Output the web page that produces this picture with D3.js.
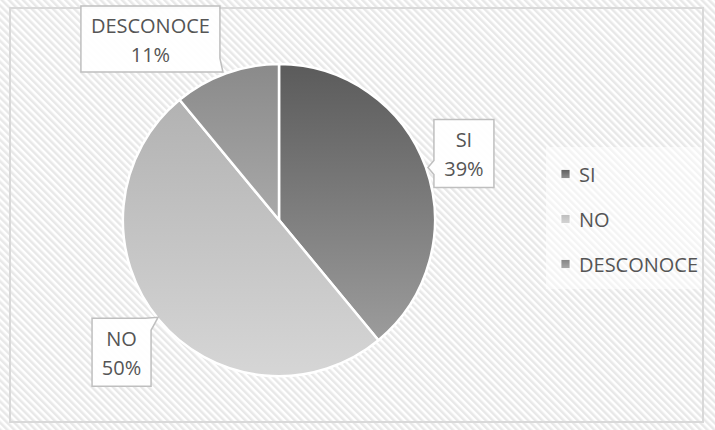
<!DOCTYPE html>
<html>
<head>
<meta charset="utf-8">
<script src="https://cdn.jsdelivr.net/npm/d3@7"></script>
<style>
  html, body { margin: 0; padding: 0; background: #fff; }
  svg { display: block; }
  text { font-family: "Open Sans", "Noto Sans", sans-serif; fill: #555555; }
</style>
</head>
<body>
<svg id="chart" width="715" height="430"></svg>
<script>
// Survey answers and their shares (percent)
const categories = ["SI", "NO", "DESCONOCE"];
const values = [39, 50, 11];
const labelText = ["39%", "50%", "11%"];

// Vertical gradient stops per slice (top, bottom)
const sliceGradients = [
  ["#5b5b5b", "#9c9c9c"],
  ["#b2b2b2", "#d6d6d6"],
  ["#8a8a8a", "#a9a9a9"]
];
const legendGradients = [
  ["#5e5e5e", "#8f8f8f"],
  ["#bdbdbd", "#d4d4d4"],
  ["#848484", "#a8a8a8"]
];

const W = 715, H = 430;
const cx = 279, cy = 220, R = 156;
const FS = 20;

const svg = d3.select("#chart");
const defs = svg.append("defs");

// Diagonal hatch background
const pat = defs.append("pattern")
  .attr("id", "hatch")
  .attr("patternUnits", "userSpaceOnUse")
  .attr("width", 5).attr("height", 5)
  .attr("patternTransform", "rotate(-45)");
pat.append("rect").attr("width", 5).attr("height", 5).attr("fill", "#ffffff");
pat.append("rect").attr("width", 2.5).attr("height", 5).attr("fill", "#e8e8e8");

svg.append("rect").attr("width", W).attr("height", H).attr("fill", "url(#hatch)");
svg.append("rect")
  .attr("x", 10).attr("y", 8).attr("width", 693).attr("height", 414)
  .attr("fill", "none").attr("stroke", "#d9d9d9").attr("stroke-width", 2);

sliceGradients.forEach((g, i) => {
  const lg = defs.append("linearGradient")
    .attr("id", "slice" + i).attr("x1", 0).attr("y1", 0).attr("x2", 0).attr("y2", 1);
  lg.append("stop").attr("offset", "0%").attr("stop-color", g[0]);
  lg.append("stop").attr("offset", "100%").attr("stop-color", g[1]);
});
legendGradients.forEach((g, i) => {
  const lg = defs.append("linearGradient")
    .attr("id", "leg" + i).attr("x1", 0).attr("y1", 0).attr("x2", 0).attr("y2", 1);
  lg.append("stop").attr("offset", "0%").attr("stop-color", g[0]);
  lg.append("stop").attr("offset", "100%").attr("stop-color", g[1]);
});

const data = categories.map((c, i) => ({ cat: c, value: values[i], label: labelText[i], i }));

const pie = d3.pie().value(d => d.value).sort(null);
const arc = d3.arc().innerRadius(0).outerRadius(R);
const arcs = pie(data);

const g = svg.append("g").attr("transform", `translate(${cx},${cy})`);
g.selectAll("path.slice")
  .data(arcs)
  .join("path")
  .attr("class", "slice")
  .attr("d", arc)
  .attr("fill", d => `url(#slice${d.data.i})`)
  .attr("stroke", "#ffffff")
  .attr("stroke-width", 2.5)
  .attr("stroke-linejoin", "round");

// Data label callouts: placed outward along each slice's mid-angle
const labelArc = d3.arc().innerRadius(R * 1.26).outerRadius(R * 1.26);
const labelNudge = [[0, 0], [-6, 7], [-62, 4]];
const boxSizes = [[60, 68], [59, 68], [139, 66]];

arcs.forEach((a, k) => {
  const [lx, ly] = labelArc.centroid(a);
  const bx = cx + lx + labelNudge[k][0];
  const by = cy + ly + labelNudge[k][1];
  const [bw, bh] = boxSizes[k];
  const x0 = bx - bw / 2, y0 = by - bh / 2, x1 = bx + bw / 2, y1 = by + bh / 2;

  let p;
  if (k === 0) {
    // pointer from left edge
    p = `M${x0},${y0} H${x1} V${y1} H${x0} V${y0 + 55} L${x0 - 6},${y0 + 48} L${x0},${y0 + 41} Z`;
  } else if (k === 1) {
    // pointer from top-right corner
    p = `M${x0},${y0} H${x1 - 6} L${x1 + 7},${y0 - 1} L${x1},${y0 + 12} V${y1} H${x0} Z`;
  } else {
    // pointer from bottom-right corner
    p = `M${x0},${y0} H${x1} V${y1 - 14} L${x1 + 3},${y1} L${x1 - 6},${y1} H${x0} Z`;
  }
  svg.append("path")
    .attr("d", p)
    .attr("fill", "#ffffff")
    .attr("fill-opacity", 0.92)
    .attr("stroke", "#bfbfbf")
    .attr("stroke-width", 1.5);

  svg.append("text")
    .attr("x", bx).attr("y", by - 6)
    .attr("text-anchor", "middle")
    .attr("font-size", FS)
    .text(a.data.cat);
  svg.append("text")
    .attr("x", bx).attr("y", by + 23)
    .attr("text-anchor", "middle")
    .attr("font-size", FS)
    .text(a.data.label);
});

// Legend
const legend = svg.append("g");
legend.append("rect")
  .attr("x", 546).attr("y", 147).attr("width", 156).attr("height", 142)
  .attr("fill", "#ffffff").attr("fill-opacity", 0.5);

const legendY = d3.scalePoint().domain(categories).range([174, 264]);
const items = legend.selectAll("g.item")
  .data(data)
  .join("g")
  .attr("class", "item")
  .attr("transform", d => `translate(561,${legendY(d.cat)})`);
items.append("rect")
  .attr("x", 0).attr("y", -4.5).attr("width", 9).attr("height", 9)
  .attr("fill", d => `url(#leg${d.i})`)
  .attr("stroke", "#ffffff").attr("stroke-width", 0.8);
items.append("text")
  .attr("x", 18).attr("y", 8)
  .attr("font-size", FS)
  .text(d => d.cat);
</script>
</body>
</html>
